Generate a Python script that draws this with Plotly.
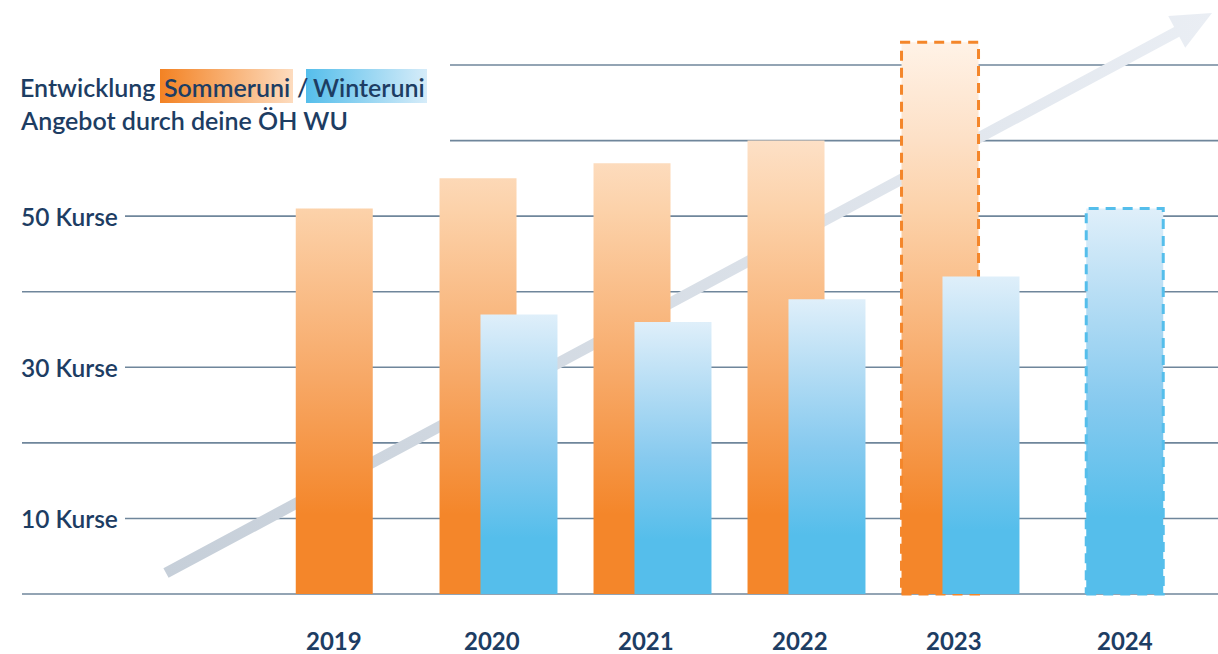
import plotly.graph_objects as go

# ---------------- data ----------------
years = ["2019", "2020", "2021", "2022", "2023", "2024"]
sommeruni = [51, 55, 57, 60, 73, None]          # Kurse Sommeruni
winteruni = [None, 37, 36, 39, 42, 51]          # Kurse Winteruni
sommer_planned = [False, False, False, False, True, False]
winter_planned = [False, False, False, False, False, True]
tick_values = [10, 30, 50]
tick_labels = ["10 Kurse", "30 Kurse", "50 Kurse"]
grid_values = [0, 10, 20, 30, 40, 50, 60, 70]

title_line1 = ["Entwicklung", "Sommeruni", "/", "Winteruni"]
title_line2 = "Angebot durch deine ÖH WU"

# ---------------- style / layout constants ----------------
W, H = 1218, 654
NAVY = "#1D3D63"
GRID = "#6F869B"
ORANGE = "#F4862A"
BLUE = "#55BEEB"
FONT = "Lato"

STEP_PX = 154.0            # pixels per group
FIRST_CENTER_PX = 344.5    # pixel centre of first group
X_MIN = -FIRST_CENTER_PX / STEP_PX
X_MAX = X_MIN + W / STEP_PX
PX_PER_UNIT_Y = 7.557
BASE_PX = 594.0
Y_MIN = -(H - BASE_PX) / PX_PER_UNIT_Y
Y_MAX = BASE_PX / PX_PER_UNIT_Y

BAR_W = 0.5
PAIR_OFF = 0.133

orange_scale = [[0.0, ORANGE], [0.14, ORANGE], [0.38, "#F7A866"],
                [0.68, "#FCD2AA"], [0.80, "#FDE0C6"], [0.97, "#FFF2E6"], [1.0, "#FFF5EC"]]
blue_scale = [[0.0, BLUE], [0.2, BLUE], [0.5, "#87CAEF"], [0.75, "#B3DCF4"], [1.0, "#DFEFFA"]]
ORANGE_GRAD_STOP = 75


def px_to_x(px):
    return X_MIN + px / W * (X_MAX - X_MIN)


def py_to_y(py):
    return Y_MAX - py / H * (Y_MAX - Y_MIN)


fig = go.Figure()

# ---------------- arrow (decoration) ----------------
tail = (166.0, 573.0)
tip = (1212.0, 13.0)
dx, dy = tip[0] - tail[0], tip[1] - tail[1]
L = (dx ** 2 + dy ** 2) ** 0.5
ux, uy = dx / L, dy / L
nx, ny = -uy, ux
head_len, head_half, shaft_half = 40.0, 18.0, 5.5
bx, by = tip[0] - head_len * ux, tip[1] - head_len * uy
pts = [
    (tail[0] + shaft_half * nx, tail[1] + shaft_half * ny),
    (bx + shaft_half * nx, by + shaft_half * ny),
    (bx + head_half * nx, by + head_half * ny),
    tip,
    (bx - head_half * nx, by - head_half * ny),
    (bx - shaft_half * nx, by - shaft_half * ny),
    (tail[0] - shaft_half * nx, tail[1] - shaft_half * ny),
]
pts.append(pts[0])
fig.add_trace(go.Scatter(
    x=[px_to_x(p[0]) for p in pts], y=[py_to_y(p[1]) for p in pts],
    mode="lines", fill="toself", line=dict(width=0),
    fillgradient=dict(type="horizontal", colorscale=[[0, "#C6CFD9"], [1, "#EAEEF4"]]),
    hoverinfo="skip", showlegend=False))


# ---------------- bars ----------------
def bar_trace(center, value, scale, planned, color, grad_stop):
    x0, x1 = center - BAR_W / 2, center + BAR_W / 2
    line = dict(width=3, color=color, dash="10px,7px") if planned else dict(width=0)
    return go.Scatter(
        x=[x0, x1, x1, x0, x0], y=[0, 0, value, value, 0],
        mode="lines", fill="toself", line=line,
        fillgradient=dict(type="vertical", colorscale=scale, start=0, stop=grad_stop),
        hoverinfo="skip", showlegend=False)


label_x = []
for i, year in enumerate(years):
    s, w = sommeruni[i], winteruni[i]
    paired = s is not None and w is not None
    off = PAIR_OFF if paired else PAIR_OFF / 2
    if s is not None:
        fig.add_trace(bar_trace(i - off, s, orange_scale, sommer_planned[i], ORANGE, ORANGE_GRAD_STOP))
    if paired:
        label_x.append(i - 0.04)
    elif s is not None:
        label_x.append(i - off)
    else:
        label_x.append(i + off)

for i, year in enumerate(years):
    s, w = sommeruni[i], winteruni[i]
    paired = s is not None and w is not None
    off = PAIR_OFF if paired else PAIR_OFF / 2
    if w is not None:
        fig.add_trace(bar_trace(i + off, w, blue_scale, winter_planned[i], BLUE, w))

# ---------------- gridlines ----------------
shapes = []
for v in grid_values:
    if v in tick_values:
        start_px = 125
    elif v > 55:
        start_px = 450
    else:
        start_px = 22
    shapes.append(dict(type="line", xref="paper", yref="y", layer="below",
                       x0=start_px / W, x1=1, y0=v, y1=v,
                       line=dict(color=GRID, width=1.6)))

annotations = []
for v, t in zip(tick_values, tick_labels):
    annotations.append(dict(x=19 / W, y=v, xref="paper", yref="y", text=t,
                            showarrow=False, xanchor="left", yanchor="middle",
                            font=dict(family=FONT, size=24.5, color=NAVY, weight=600)))

for xl, yr in zip(label_x, years):
    annotations.append(dict(x=xl, y=py_to_y(640), xref="x", yref="y", text=yr,
                            showarrow=False, xanchor="center", yanchor="middle",
                            font=dict(family=FONT, size=24, color=NAVY, weight=700)))

# ---------------- title with highlight boxes ----------------
for (x0p, x1p, scale) in [(160, 293, [[0, "#F38223"], [1, "#FDDCBF"]]),
                          (306, 427, [[0, BLUE], [1, "#D6ECF9"]])]:
    xs = [px_to_x(x0p), px_to_x(x1p), px_to_x(x1p), px_to_x(x0p), px_to_x(x0p)]
    ys = [py_to_y(103), py_to_y(103), py_to_y(69), py_to_y(69), py_to_y(103)]
    fig.add_trace(go.Scatter(x=xs, y=ys, mode="lines", fill="toself", line=dict(width=0),
                             fillgradient=dict(type="horizontal", colorscale=scale),
                             hoverinfo="skip", showlegend=False))

title_x_px = [18, 162, 295, 311]
for txt, xp in zip(title_line1, title_x_px):
    annotations.append(dict(x=xp / W, y=1 - 87 / H, xref="paper", yref="paper", text=txt,
                            showarrow=False, xanchor="left", yanchor="middle",
                            font=dict(family=FONT, size=25, color=NAVY, weight=600)))
annotations.append(dict(x=18 / W, y=1 - 120 / H, xref="paper", yref="paper", text=title_line2,
                        showarrow=False, xanchor="left", yanchor="middle",
                        font=dict(family=FONT, size=25, color=NAVY, weight=600)))

fig.update_layout(
    width=W, height=H, autosize=False,
    margin=dict(l=0, r=0, t=0, b=0, pad=0),
    paper_bgcolor="white", plot_bgcolor="white",
    xaxis=dict(range=[X_MIN, X_MAX], visible=False, fixedrange=True),
    yaxis=dict(range=[Y_MIN, Y_MAX], visible=False, fixedrange=True),
    shapes=shapes, annotations=annotations, showlegend=False,
)

fig.write_html("out.html", post_script="document.body.style.margin='0';",
               config={"displayModeBar": False})
